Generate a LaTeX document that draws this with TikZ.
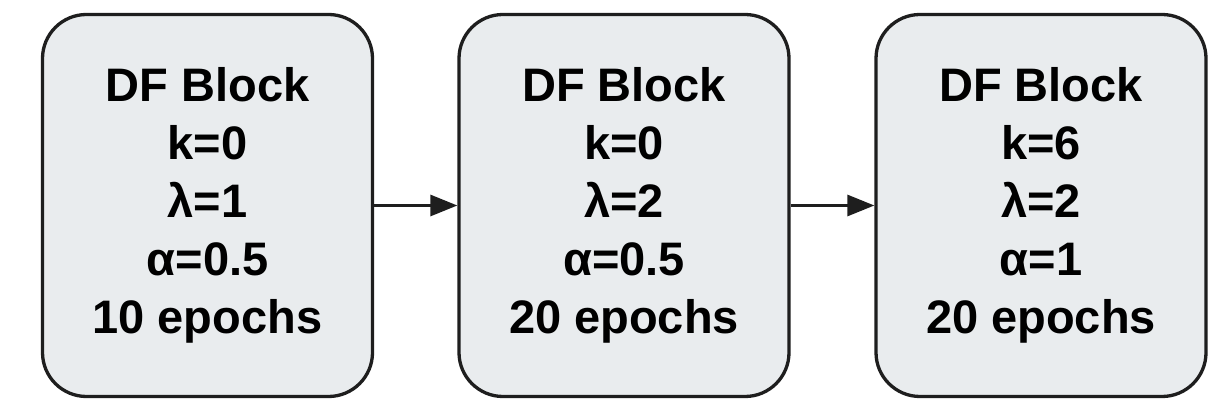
\documentclass[tikz,border=0pt]{standalone}
\usepackage{fontspec}
\setmainfont{Liberation Sans}
\usetikzlibrary{arrows.meta}
\definecolor{boxfill}{RGB}{233,236,238}
\definecolor{boxline}{RGB}{30,30,30}
\begin{document}
\begin{tikzpicture}[x=1pt,y=1pt,
  dfbox/.style={draw=boxline, fill=boxfill, line width=3.3pt, rounded corners=44pt,
    minimum width=330pt, minimum height=382pt, inner sep=0pt, align=center,
    font=\bfseries\fontsize{47}{58}\selectfont},
  flow/.style={draw=boxline, line width=3pt, -{Triangle[length=27pt,width=21pt]}}]
\useasboundingbox (0,0) rectangle (1222,412);
\node[dfbox] (b1) at (207.5,206.5) {DF Block\\k=0\\λ=1\\α=0.5\\10 epochs};
\node[dfbox] (b2) at (624,206.5) {DF Block\\k=0\\λ=2\\α=0.5\\20 epochs};
\node[dfbox] (b3) at (1041,206.5) {DF Block\\k=6\\λ=2\\α=1\\20 epochs};
\draw[flow] (b1.east) -- (b2.west);
\draw[flow] (b2.east) -- (b3.west);
\end{tikzpicture}
\end{document}
